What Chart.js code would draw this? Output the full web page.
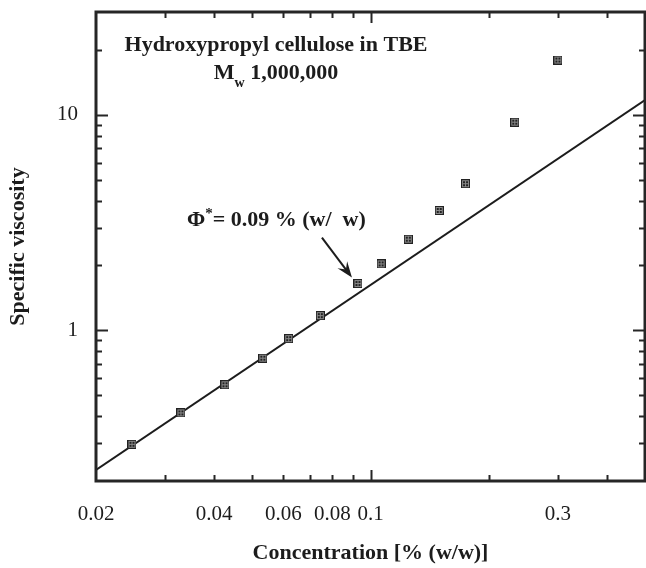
<!DOCTYPE html>
<html>
<head>
<meta charset="utf-8">
<title>Specific viscosity vs concentration</title>
<script src="https://cdn.jsdelivr.net/npm/chart.js@4.4.1/dist/chart.umd.min.js"></script>
<style>
    body { margin: 0; background: #fff; }
    #wrap { width: 646px; height: 568px; position: relative; }
</style>
</head>
<body>
<div id="wrap"><canvas id="viscChart"></canvas></div>
<script>
const concentration = [0.0247, 0.0329, 0.0426, 0.0532, 0.0619, 0.0745, 0.0929, 0.1064, 0.1248, 0.1496, 0.1746, 0.233, 0.300];
const specViscosity = [0.296, 0.414, 0.559, 0.743, 0.915, 1.17, 1.649, 2.034, 2.65, 3.60, 4.79, 9.25, 17.96];

// Dilute-regime fit line
const fitConc = [0.02, 0.5];
const fitVisc = [0.225, 11.7];

// Axis labels and tick marks
const xTickLabels = [0.02, 0.04, 0.06, 0.08, 0.1, 0.3];
const yTickLabels = [1, 10];
const xMinorTicks = [0.03, 0.04, 0.05, 0.06, 0.07, 0.08, 0.09, 0.2, 0.3, 0.4];
const xMajorTicks = [0.1];
const yMinorTicks = [0.3, 0.4, 0.5, 0.6, 0.7, 0.8, 0.9, 2, 3, 4, 5, 6, 7, 8, 9, 20];
const yMajorTicks = [1, 10];
const criticalIndex = 6; // the point at phi* = 0.09

const SERIF = '"Liberation Serif", "Times New Roman", serif';
const INK = '#1c1c1c';

let viscChart;

function makeMarker() {
    const c = document.createElement('canvas');
    c.width = 9;
    c.height = 9;
    const g = c.getContext('2d');
    g.fillStyle = '#222';
    g.fillRect(0, 0, 9, 9);
    g.fillStyle = '#8a8a8a';
    g.fillRect(1, 1, 7, 7);
    g.fillStyle = '#222';
    g.fillRect(2, 2, 2, 2);
    g.fillRect(5, 2, 2, 2);
    g.fillRect(2, 5, 2, 2);
    g.fillRect(5, 5, 2, 2);
    return c;
}

// frame, inward ticks on all four sides and the text annotations
const framePlugin = {
    id: 'frame',
    afterDraw(chart) {
        const ctx = chart.ctx;
        const ca = chart.chartArea;
        const xs = chart.scales.x;
        const ys = chart.scales.y;
        ctx.save();
        ctx.strokeStyle = '#262626';

        ctx.lineWidth = 2;
        const drawX = (vals, len) => vals.forEach(v => {
            const px = Math.round(xs.getPixelForValue(v)) + 0.5;
            ctx.beginPath();
            ctx.moveTo(px, ca.bottom); ctx.lineTo(px, ca.bottom - len);
            ctx.moveTo(px, ca.top); ctx.lineTo(px, ca.top + len);
            ctx.stroke();
        });
        const drawY = (vals, len) => vals.forEach(v => {
            const py = Math.round(ys.getPixelForValue(v)) + 0.5;
            ctx.beginPath();
            ctx.moveTo(ca.left, py); ctx.lineTo(ca.left + len, py);
            ctx.moveTo(ca.right, py); ctx.lineTo(ca.right - len, py);
            ctx.stroke();
        });
        drawX(xMinorTicks, 6);
        drawX(xMajorTicks, 11);
        drawY(yMinorTicks, 6);
        drawY(yMajorTicks, 12);

        ctx.lineWidth = 3;
        ctx.strokeRect(ca.left, ca.top, ca.right - ca.left, ca.bottom - ca.top);

        // title block
        ctx.fillStyle = INK;
        ctx.textBaseline = 'alphabetic';
        const cx = ca.left + 180;
        ctx.font = 'bold 22px ' + SERIF;
        ctx.textAlign = 'center';
        ctx.fillText('Hydroxypropyl cellulose in TBE', cx, ca.top + 39);

        ctx.textAlign = 'left';
        const wM = ctx.measureText('M').width;
        const rest = ' 1,000,000';
        const wRest = ctx.measureText(rest).width;
        ctx.font = 'bold 14px ' + SERIF;
        const wSub = ctx.measureText('w').width;
        let x0 = cx - (wM + wSub + wRest) / 2;
        ctx.font = 'bold 22px ' + SERIF;
        ctx.fillText('M', x0, ca.top + 67);
        ctx.font = 'bold 14px ' + SERIF;
        ctx.fillText('w', x0 + wM, ca.top + 75);
        ctx.font = 'bold 22px ' + SERIF;
        ctx.fillText(rest, x0 + wM + wSub, ca.top + 67);

        // phi* annotation
        let ax = ca.left + 91;
        const ay = ca.top + 214;
        ctx.fillText('\u03A6', ax, ay);
        ax += ctx.measureText('\u03A6').width;
        ctx.font = 'bold 15px ' + SERIF;
        ctx.fillText('*', ax, ay - 8);
        ax += ctx.measureText('*').width;
        ctx.font = 'bold 22px ' + SERIF;
        ctx.fillText('= 0.09 % (w/  w)', ax, ay);

        // arrow to the critical point
        const tipX = xs.getPixelForValue(concentration[criticalIndex]) - 6;
        const tipY = ys.getPixelForValue(specViscosity[criticalIndex]) - 6;
        const tailX = tipX - 30, tailY = tipY - 40;
        const ang = Math.atan2(tipY - tailY, tipX - tailX);
        ctx.lineWidth = 2;
        ctx.strokeStyle = INK;
        ctx.beginPath();
        ctx.moveTo(tailX, tailY);
        ctx.lineTo(tipX - 8 * Math.cos(ang), tipY - 8 * Math.sin(ang));
        ctx.stroke();
        ctx.beginPath();
        ctx.moveTo(tipX, tipY);
        ctx.lineTo(tipX - 16 * Math.cos(ang) + 6 * Math.sin(ang), tipY - 16 * Math.sin(ang) - 6 * Math.cos(ang));
        ctx.lineTo(tipX - 10 * Math.cos(ang), tipY - 10 * Math.sin(ang));
        ctx.lineTo(tipX - 16 * Math.cos(ang) - 6 * Math.sin(ang), tipY - 16 * Math.sin(ang) + 6 * Math.cos(ang));
        ctx.closePath();
        ctx.fill();
        ctx.restore();
    }
};

function initViscChart() {
    const ctx = document.getElementById('viscChart');
    if (!ctx) return;

    Chart.defaults.font.family = SERIF;
    Chart.defaults.color = INK;

    viscChart = new Chart(ctx, {
        type: 'scatter',
        data: {
            datasets: [{
                label: 'Specific viscosity',
                data: concentration.map((c, i) => ({ x: c, y: specViscosity[i] })),
                pointStyle: makeMarker(),
                pointRadius: 5,
                showLine: false
            }, {
                label: 'Fit',
                data: fitConc.map((c, i) => ({ x: c, y: fitVisc[i] })),
                showLine: true,
                pointRadius: 0,
                borderColor: INK,
                borderWidth: 2
            }]
        },
        options: {
            responsive: true,
            maintainAspectRatio: false,
            animation: false,
            layout: {
                autoPadding: false,
                padding: { top: 12, right: 1, left: 0, bottom: 0 }
            },
            plugins: {
                legend: { display: false },
                tooltip: { enabled: false }
            },
            scales: {
                x: {
                    type: 'logarithmic',
                    min: 0.02,
                    max: 0.5,
                    grid: { display: false, drawTicks: false },
                    border: { display: false },
                    afterBuildTicks: s => { s.ticks = xTickLabels.map(v => ({ value: v })); },
                    afterFit: s => {
                        s.height = 87;
                        s.paddingLeft = 0;
                        s.paddingRight = 0;
                    },
                    ticks: {
                        autoSkip: false,
                        maxRotation: 0,
                        padding: 21,
                        color: INK,
                        font: { size: 21 },
                        callback: v => String(v)
                    },
                    title: {
                        display: true,
                        text: 'Concentration [% (w/w)]',
                        color: INK,
                        font: { size: 22, weight: 'bold' },
                        padding: { top: 0, bottom: 1 }
                    }
                },
                y: {
                    type: 'logarithmic',
                    min: 0.2,
                    max: 30,
                    grid: { display: false, drawTicks: false },
                    border: { display: false },
                    afterBuildTicks: s => { s.ticks = yTickLabels.map(v => ({ value: v })); },
                    afterFit: s => {
                        s.width = 96;
                        s.paddingTop = 0;
                        s.paddingBottom = 0;
                    },
                    ticks: {
                        autoSkip: false,
                        padding: 18,
                        color: INK,
                        font: { size: 21 },
                        callback: v => String(v)
                    },
                    title: {
                        display: true,
                        text: 'Specific viscosity',
                        color: INK,
                        font: { size: 22, weight: 'bold' },
                        padding: { top: 5, bottom: 0 }
                    }
                }
            }
        },
        plugins: [framePlugin]
    });
}

initViscChart();
</script>
</body>
</html>
